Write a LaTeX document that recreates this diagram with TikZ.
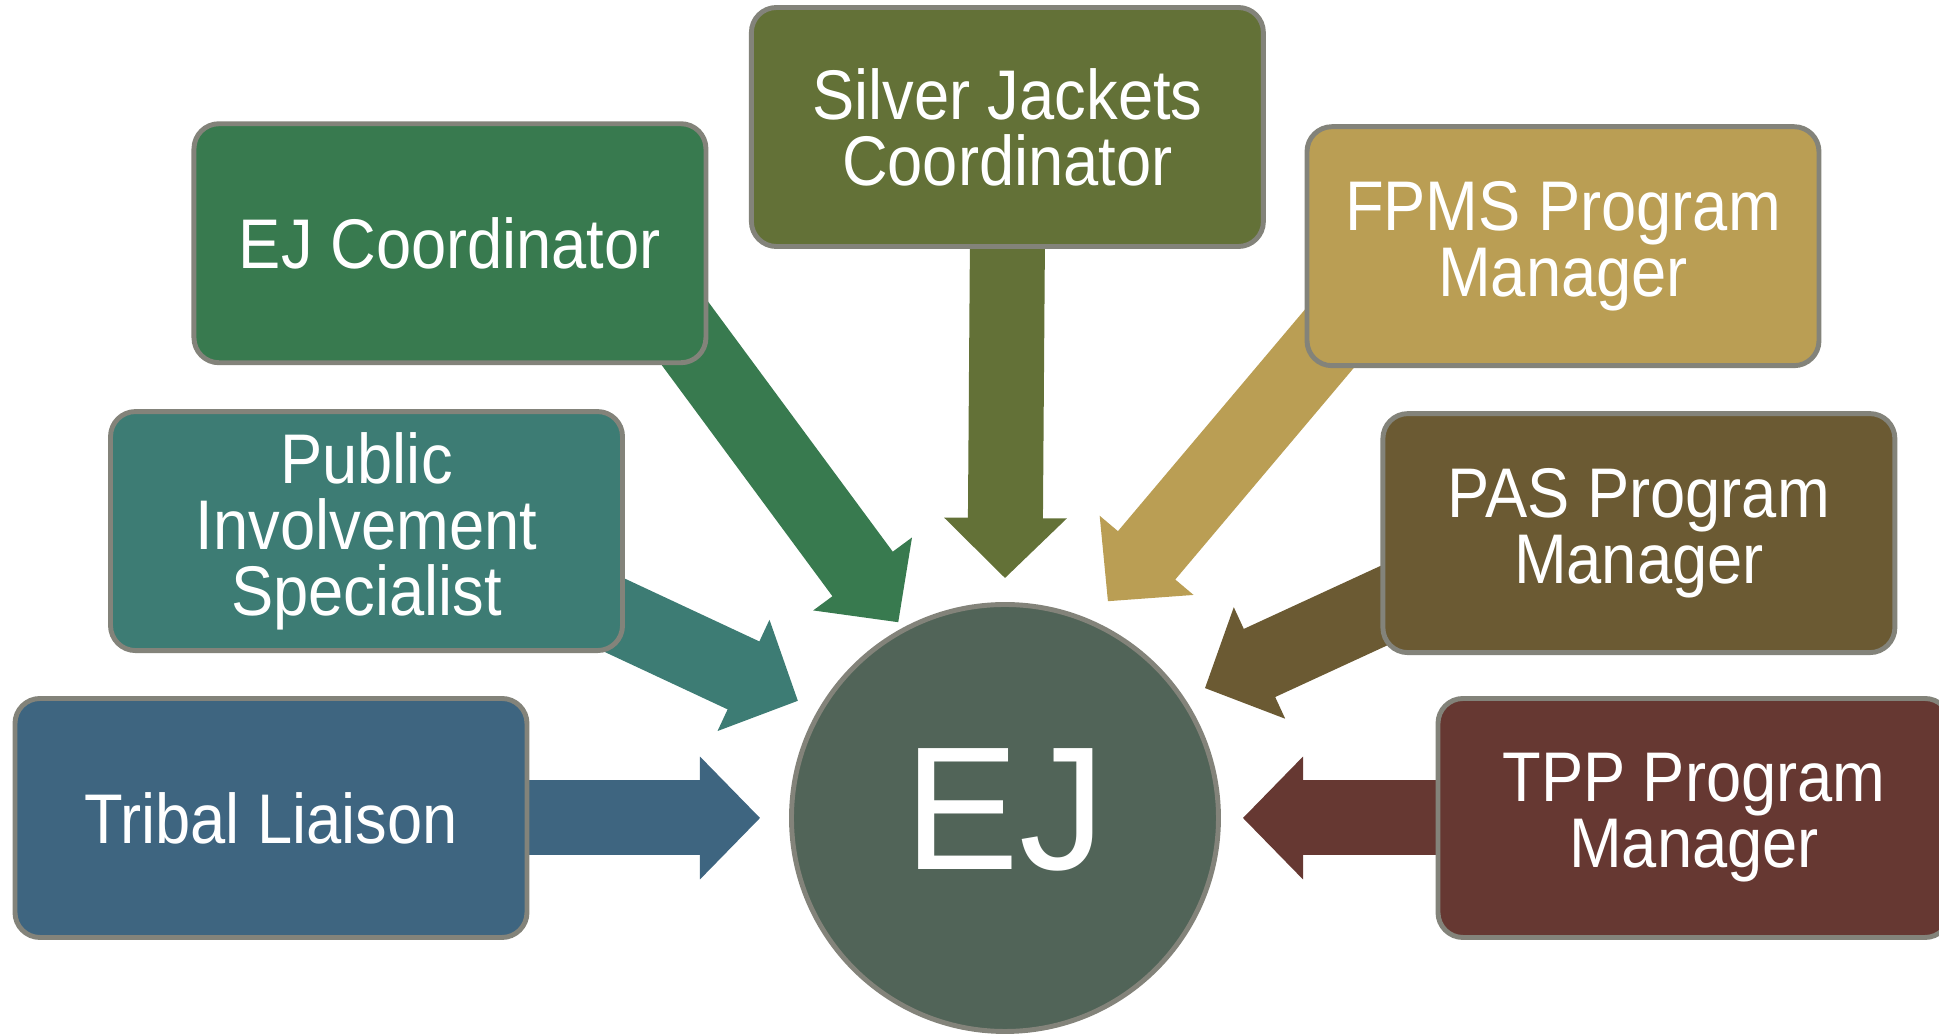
\documentclass[tikz,border=0pt]{standalone}
\usepackage{fontspec}
\setmainfont{Liberation Sans}[FakeStretch=0.9]
\newfontfamily\hubfont{Liberation Sans}[FakeStretch=0.98]
\usetikzlibrary{arrows.meta,backgrounds}

\definecolor{edgeC}{HTML}{83837A}
\definecolor{hubC}{HTML}{516458}
\definecolor{tlC}{HTML}{3E6580}
\definecolor{piC}{HTML}{3D7C74}
\definecolor{ecC}{HTML}{387A4F}
\definecolor{sjC}{HTML}{637137}
\definecolor{fpC}{HTML}{BA9E54}
\definecolor{paC}{HTML}{6B5A33}
\definecolor{tpC}{HTML}{663832}

\begin{document}
\begin{tikzpicture}[role/.style={draw=edgeC, line width=1.4pt, rectangle, rounded corners=0.25cm,
                                 minimum width=5.12cm, minimum height=2.39cm, inner sep=0pt,
                                 align=center, text=white, font=\fontsize{20pt}{18.8pt}\selectfont},
                    hub/.style={draw=edgeC, line width=1.4pt, circle, fill=hubC, minimum size=4.27cm,
                                text=white, text depth=0.18cm, font=\hubfont\fontsize{50pt}{50pt}\selectfont},
                    flow/.style={line width=0.75cm, shorten <=-1cm,
                                 -{Triangle[length=0.6cm 0 0, width=1.22cm 0 0, line width=1.2pt 0 0]}}]

  \useasboundingbox (-10.05,-2.16) rectangle (9.34,8.18);

  \node [hub] (EJ) {EJ};

  \path (EJ) ++(180:7.34)  node [role, fill=tlC] (TL) {Tribal Liaison};
  \path (EJ) ++(155.8:7.0) node [role, fill=piC] (PI) {Public\\Involvement\\Specialist};
  \path (EJ) ++(134.0:7.99) node [role, fill=ecC] (EC) {EJ Coordinator};
  \path (EJ) ++(89.8:6.91) node [role, fill=sjC] (SJ) {Silver Jackets\\Coordinator};
  \path (EJ) ++(45.7:7.99) node [role, fill=fpC] (FP) {FPMS Program\\Manager};
  \path (EJ) ++(24.2:6.95) node [role, fill=paC] (PA) {PAS Program\\Manager};
  \path (EJ) ++(0:6.89)    node [role, fill=tpC] (TP) {TPP Program\\Manager};

  \path (EJ) ++(180:2.45)   coordinate (TLtip);
  \path (EJ) ++(150.5:2.38) coordinate (PItip);
  \path (EJ) ++(118.6:2.23) coordinate (ECtip);
  \path (EJ) ++(90:2.40)    coordinate (SJtip);
  \path (EJ) ++(64.6:2.40)  coordinate (FPtip);
  \path (EJ) ++(33.0:2.385) coordinate (PAtip);
  \path (EJ) ++(0:2.38)     coordinate (TPtip);

  \begin{scope}[on background layer]
    \draw [flow, tlC] (TL.east) -- (TLtip);
    \draw [flow, piC] (PI.-19) -- (PItip);
    \draw [flow, ecC] (EC.south east) -- (ECtip);
    \draw [flow, sjC] (SJ.south) -- (SJtip);
    \draw [flow, fpC] (FP.south west) -- (FPtip);
    \draw [flow, paC] (PA.196) -- (PAtip);
    \draw [flow, tpC] (TP.west) -- (TPtip);
  \end{scope}
\end{tikzpicture}
\end{document}
